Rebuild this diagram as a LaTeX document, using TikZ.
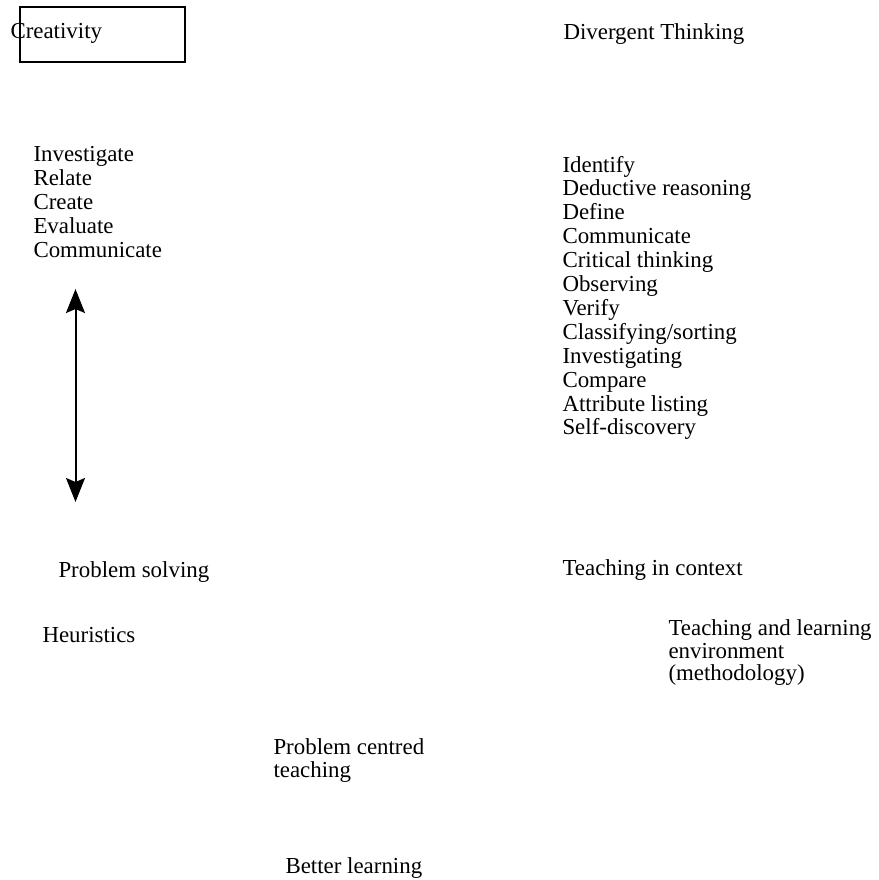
\documentclass[tikz,border=0pt]{standalone}
\usepackage{fontspec}
\setmainfont{Liberation Serif}
\usepackage{tikz}
\usetikzlibrary{arrows.meta}

\tikzset{
  word/.style = {anchor = base west, inner sep = 0pt, font = \fontsize{22.9}{24}\selectfont},
  titlebox/.style = {draw, line width = 1.4pt}
}

\begin{document}
\begin{tikzpicture}[x = 1pt, y = -1pt, line width = 1pt]
    \useasboundingbox (0, 0) rectangle (878, 880);

    % top row
    \draw[titlebox] (20, 7) rectangle (185, 62);
    \node[word] (creativity) at (10, 39) {Creativity};
    \node[word] (divergent) at (563, 40) {Divergent Thinking};

    % left list
    \foreach \w [count = \i] in {Investigate, Relate, Create, Evaluate, Communicate}
      \node[word] (left\i) at (33, 161 + 24 * \i - 24) {\w};

    % right list
    \foreach \w [count = \i] in {Identify, Deductive reasoning, Define, Communicate,
        Critical thinking, Observing, Verify, Classifying/sorting, Investigating,
        Compare, Attribute listing, Self-discovery}
      \node[word] (right\i) at (562, 172 + 23.9 * \i - 23.9) {\w};

    % draw double arrow
    \coordinate (uptip) at (75.5, 289);
    \coordinate (downtip) at (75.5, 502);
    \draw[{Stealth[length = 24pt, width = 19pt, inset = 4pt]}-{Stealth[length = 24pt, width = 19pt, inset = 4pt]}, line width = 2pt]
      (uptip) -- (downtip);

    % lower part
    \node[word] (solving) at (58, 577) {Problem solving};
    \node[word] (heuristics) at (42, 642) {Heuristics};
    \node[word] (context) at (562, 575) {Teaching in context};
    \node[word] (environment1) at (668, 635) {Teaching and learning};
    \node[word] (environment2) at (668, 658) {environment};
    \node[word] (environment3) at (668, 680) {(methodology)};
    \node[word] (centred1) at (273, 754) {Problem centred};
    \node[word] (centred2) at (273, 777) {teaching};
    \node[word] (better) at (285, 873) {Better learning};
\end{tikzpicture}
\end{document}
